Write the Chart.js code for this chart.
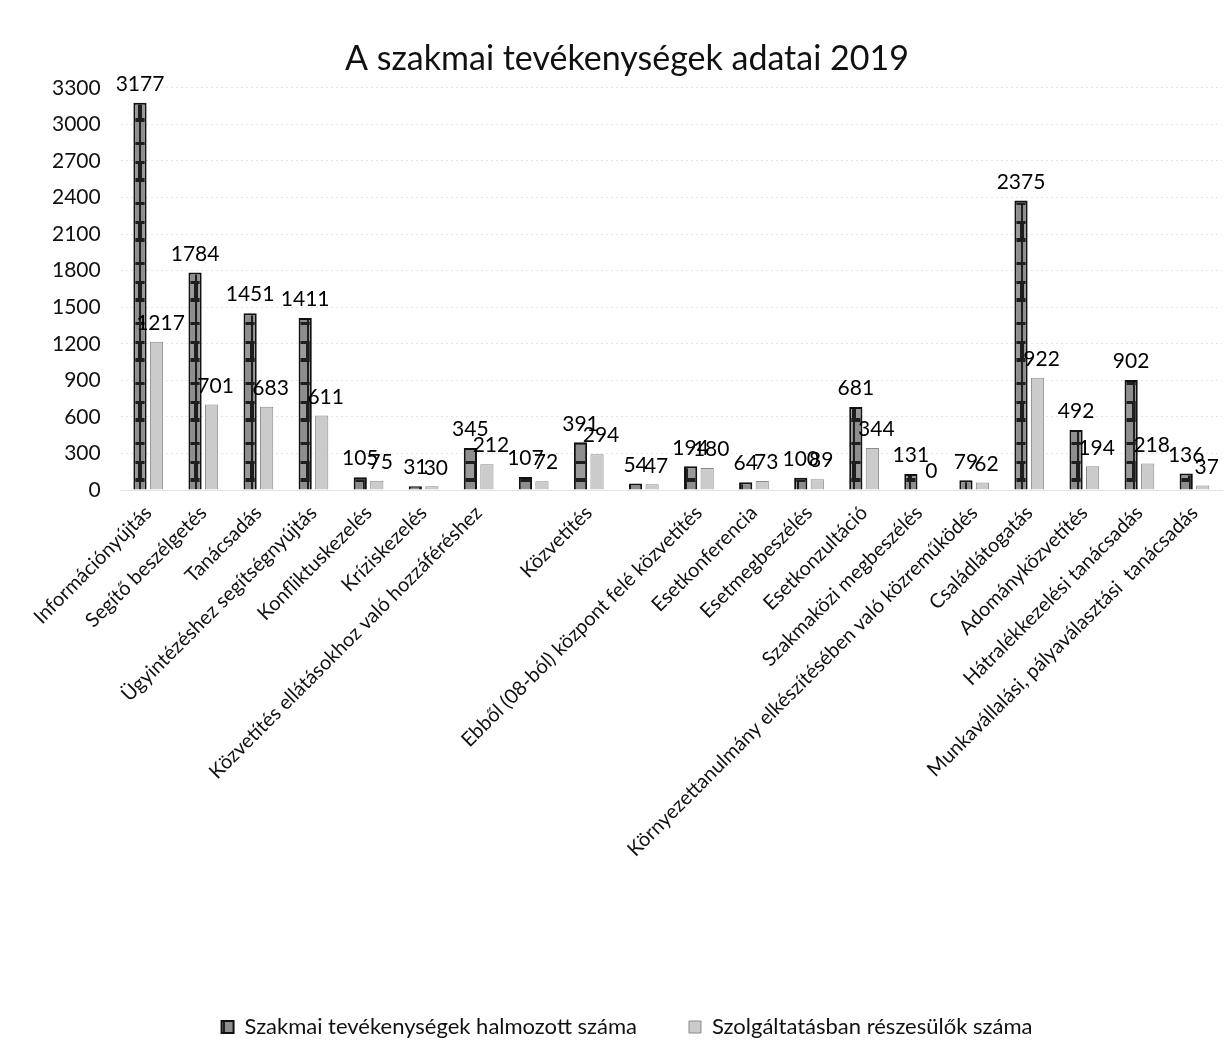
<!DOCTYPE html>
<html>
<head>
<meta charset="utf-8">
<script src="https://cdn.jsdelivr.net/npm/chart.js@4.4.1/dist/chart.umd.min.js"></script>
<style>
  body { margin: 0; background: #fff; }
  #wrap { width: 1224px; height: 1058px; }
</style>
</head>
<body>
<div id="wrap"><canvas id="chart"></canvas></div>
<script>
// categories (two have no label in the original)
const categories = [
    "Információnyújtás", "Segítő beszélgetés", "Tanácsadás", "Ügyintézéshez segítségnyújtás",
    "Konfliktuskezelés", "Kríziskezelés", "Közvetítés ellátásokhoz való hozzáféréshez", "",
    "Közvetítés", "", "Ebből (08-ból) központ felé közvetítés", "Esetkonferencia",
    "Esetmegbeszélés", "Esetkonzultáció", "Szakmaközi megbeszélés",
    "Környezettanulmány elkészítésében való közreműködés", "Családlátogatás",
    "Adományközvetítés", "Hátralékkezelési tanácsadás", "Munkavállalási, pályaválasztási  tanácsadás"
];

const activityCounts = [3177, 1784, 1451, 1411, 105, 31, 345, 107, 391, 54, 194, 64, 100, 681, 131, 79, 2375, 492, 902, 136];
const clientCounts = [1217, 701, 683, 611, 75, 30, 212, 72, 294, 47, 180, 73, 89, 344, 0, 62, 922, 194, 218, 37];

const yTicks = [0, 300, 600, 900, 1200, 1500, 1800, 2100, 2400, 2700, 3000, 3300];

const FONT = "Lato, 'Open Sans', sans-serif";

// scanned look: gray blotches on black
function darkPattern() {
    const c = document.createElement("canvas");
    c.width = 14; c.height = 60;
    const g = c.getContext("2d");
    g.fillStyle = "#1e1e1e";
    g.fillRect(0, 0, 14, 60);
    g.fillStyle = "#8e8e8e";
    g.fillRect(1, 2, 12, 20);
    g.fillRect(1, 25, 12, 16);
    g.fillStyle = "#9a9a9a";
    g.fillRect(2, 44, 10, 14);
    return g.createPattern(c, "repeat");
}

const valueLabels = {
    id: "valueLabels",
    afterDatasetsDraw(chart) {
        const ctx = chart.ctx;
        ctx.save();
        ctx.font = "21px " + FONT;
        ctx.fillStyle = "#000";
        ctx.textAlign = "center";
        ctx.textBaseline = "bottom";
        chart.data.datasets.forEach((ds, i) => {
            chart.getDatasetMeta(i).data.forEach((bar, j) => {
                ctx.fillText(ds.data[j], bar.x + (i === 1 ? 4 : 0), bar.y - 8);
            });
        });
        ctx.restore();
    }
};

new Chart(document.getElementById("chart"), {
    type: "bar",
    data: {
        labels: categories,
        datasets: [
            {
                label: "Szakmai tevékenységek halmozott száma",
                data: activityCounts,
                backgroundColor: darkPattern(),
                borderColor: "#111",
                borderWidth: 2,
                barPercentage: 0.8,
                categoryPercentage: 0.6
            },
            {
                label: "Szolgáltatásban részesülők száma",
                data: clientCounts,
                backgroundColor: "#cbcbcb",
                borderColor: "#8a8a8a",
                borderWidth: 1,
                barPercentage: 0.8,
                categoryPercentage: 0.6
            }
        ]
    },
    options: {
        responsive: true,
        maintainAspectRatio: false,
        animation: false,
        layout: { padding: { left: 32, right: 2, top: 9, bottom: 10 } },
        plugins: {
            title: {
                display: true,
                text: "A szakmai tevékenységek adatai 2019",
                color: "#111",
                font: { family: FONT, size: 34, weight: "normal" },
                padding: { top: 30, bottom: 8 }
            },
            legend: {
                position: "bottom",
                labels: {
                    color: "#111",
                    font: { family: FONT, size: 22 },
                    boxWidth: 12,
                    boxHeight: 12,
                    padding: 52
                }
            },
            tooltip: { enabled: false }
        },
        scales: {
            x: {
                grid: { display: false },
                border: { color: "#e4e4e4" },
                ticks: {
                    color: "#111",
                    autoSkip: false,
                    minRotation: 45,
                    maxRotation: 45,
                    font: { family: FONT, size: 20 }
                },
                afterFit(scale) { scale.height = 474; }
            },
            y: {
                min: 0,
                max: yTicks[yTicks.length - 1],
                afterBuildTicks(scale) { scale.ticks = yTicks.map(v => ({ value: v })); },
                grid: { color: "#e6e6e6", drawTicks: false },
                border: { display: false, dash: [2, 3] },
                ticks: {
                    color: "#111",
                    padding: 20,
                    font: { family: FONT, size: 21 },
                    callback: v => String(v)
                }
            }
        }
    },
    plugins: [valueLabels]
});
</script>
</body>
</html>
